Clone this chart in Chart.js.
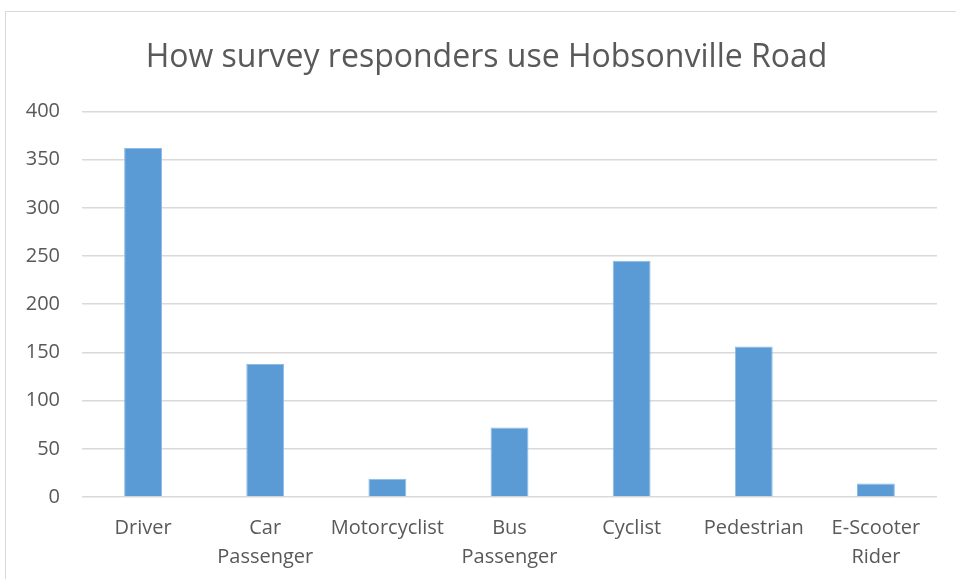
<!DOCTYPE html>
<html>
<head>
<meta charset="utf-8">
<script src="https://cdn.jsdelivr.net/npm/chart.js@4/dist/chart.umd.min.js"></script>
<style>
  html, body { margin: 0; padding: 0; background: #fff; }
  #wrap { position: relative; width: 956px; height: 579px; }
  #frame {
    position: absolute; left: 5px; top: 11px; right: -2px; bottom: -2px;
    border-top: 1.5px solid #d9d9d9; border-left: 1.5px solid #d9d9d9;
    pointer-events: none;
  }
</style>
</head>
<body>
<div id="wrap">
  <canvas id="myChart" width="956" height="579"></canvas>
  <div id="frame"></div>
</div>
<script>
// Road user groups along the x-axis
let modes = [['Driver'], ['Car', 'Passenger'], ['Motorcyclist'], ['Bus', 'Passenger'],
  ['Cyclist'], ['Pedestrian'], ['E-Scooter', 'Rider']];
// Number of responders per group
let responders = [362, 138, 19, 72, 245, 156, 14];
// Value axis ticks
let yMin = 0;
let yMax = 400;
let yStep = 50;

let ctx = document.getElementById('myChart');
let font = "'Open Sans', sans-serif";

// nudge the title so it sits centred over the framed box
let titleShift = {
  id: 'titleShift',
  afterLayout: function (chart) {
    if (chart.titleBlock) {
      chart.titleBlock.left += 36;
      chart.titleBlock.right += 0;
    }
  }
};

let myChart = new Chart(ctx, {
  type: 'bar',
  data: {
    labels: modes,
    datasets: [
      {
        label: 'Responders',
        data: responders,
        backgroundColor: '#5b9bd5',
        borderColor: '#8dbbe6',
        borderWidth: 1,
        barPercentage: 0.31,
        categoryPercentage: 1
      }
    ]
  },
  plugins: [titleShift],
  options: {
    responsive: false,
    animation: false,
    layout: { padding: { left: 0, right: 19, top: 0, bottom: 0 } },
    plugins: {
      legend: { display: false },
      tooltip: { enabled: false },
      title: {
        display: true,
        text: 'How survey responders use Hobsonville Road',
        color: '#595959',
        font: { family: font, size: 32, weight: 'normal' },
        padding: { top: 39, bottom: 34 }
      }
    },
    scales: {
      x: {
        afterFit: function (scale) { scale.height = 82; },
        grid: { display: false },
        border: { display: false },
        ticks: {
          color: '#595959',
          font: { family: font, size: 20, lineHeight: 1.45 },
          padding: 9,
          maxRotation: 0,
          autoSkip: false
        }
      },
      y: {
        min: yMin,
        max: yMax,
        afterFit: function (scale) { scale.width = 82; },
        grid: { color: '#d9d9d9', lineWidth: 1.5, drawTicks: false },
        border: { display: false },
        ticks: {
          stepSize: yStep,
          color: '#595959',
          font: { family: font, size: 20 },
          padding: 22
        }
      }
    }
  }
});
</script>
</body>
</html>
